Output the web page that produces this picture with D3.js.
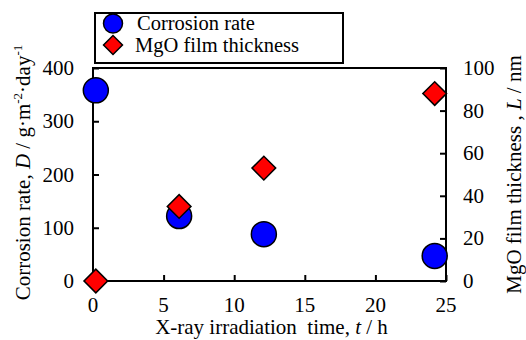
<!DOCTYPE html>
<html>
<head>
<meta charset="utf-8">
<script src="https://cdn.jsdelivr.net/npm/d3@7"></script>
<style>
  body { margin: 0; background: #fff; }
  svg text { font-family: "Liberation Serif", "Times New Roman", serif; fill: #000; }
</style>
</head>
<body>
<svg id="chart"></svg>
<script>
// data
const times = [0.2, 6.1, 12.1, 24.2];
const corrosionRate = [358, 122, 88, 47];
const filmThickness = [0, 35, 53, 88];
const xTicks = [0, 5, 10, 15, 20, 25];
const yLeftTicks = [0, 100, 200, 300, 400];
const yRightTicks = [0, 20, 40, 60, 80, 100];

const width = 526, height = 340;
const margin = { left: 93, right: 80, top: 68, bottom: 59 };
const w = width - margin.left - margin.right;
const h = height - margin.top - margin.bottom;

const svg = d3.select("#chart")
  .attr("width", width)
  .attr("height", height);

const g = svg.append("g")
  .attr("transform", `translate(${margin.left},${margin.top})`);

const x = d3.scaleLinear().domain([0, 25]).range([0, w]);
const yL = d3.scaleLinear().domain([0, 400]).range([h, 0]);
const yR = d3.scaleLinear().domain([0, 100]).range([h, 0]);

// frame
g.append("rect")
  .attr("width", w).attr("height", h)
  .attr("fill", "none").attr("stroke", "#000").attr("stroke-width", 2);

const fs = 21;

// x axis: inward ticks
const xAxis = g.append("g")
  .attr("transform", `translate(0,${h})`)
  .call(d3.axisTop(x).tickValues(xTicks).tickSize(6).tickFormat(""));
xAxis.select(".domain").remove();
xAxis.selectAll("line").attr("stroke-width", 2);
g.selectAll(".xlab").data(xTicks).enter().append("text")
  .attr("x", d => x(d))
  .attr("y", h + 31)
  .attr("text-anchor", "middle")
  .style("font-size", fs + "px")
  .text(d => d);

// left axis
const yLAxis = g.append("g")
  .call(d3.axisRight(yL).tickValues(yLeftTicks).tickSize(6).tickFormat(""));
yLAxis.select(".domain").remove();
yLAxis.selectAll("line").attr("stroke-width", 2);
g.selectAll(".ylab").data(yLeftTicks).enter().append("text")
  .attr("x", -19)
  .attr("y", d => yL(d) + 7)
  .attr("text-anchor", "end")
  .style("font-size", fs + "px")
  .text(d => d);

// right axis
const yRAxis = g.append("g")
  .attr("transform", `translate(${w},0)`)
  .call(d3.axisLeft(yR).tickValues(yRightTicks).tickSize(6).tickFormat(""));
yRAxis.select(".domain").remove();
yRAxis.selectAll("line").attr("stroke-width", 2);
g.selectAll(".yrlab").data(yRightTicks).enter().append("text")
  .attr("x", w + 17)
  .attr("y", d => yR(d) + 7)
  .attr("text-anchor", "start")
  .style("font-size", fs + "px")
  .text(d => d);

// titles
const xt = g.append("text")
  .attr("x", w / 2 + 2)
  .attr("y", h + 53)
  .attr("text-anchor", "middle")
  .style("font-size", fs + "px");
xt.append("tspan").text("X-ray irradiation\u00a0 time, ");
xt.append("tspan").style("font-style", "italic").text("t");
xt.append("tspan").text(" / h");

const ylt = svg.append("text")
  .attr("transform", `translate(30,${margin.top + h / 2 - 2}) rotate(-90)`)
  .attr("text-anchor", "middle")
  .style("font-size", fs + "px");
ylt.append("tspan").text("Corrosion rate, ");
ylt.append("tspan").style("font-style", "italic").text("D");
ylt.append("tspan").text(" / g\u00b7m");
ylt.append("tspan").attr("dy", -8).style("font-size", "13px").text("-2");
ylt.append("tspan").attr("dy", 8).text("\u00b7day");
ylt.append("tspan").attr("dy", -8).style("font-size", "13px").text("-1");

const yrt = svg.append("text")
  .attr("transform", `translate(521,${margin.top + h / 2}) rotate(-90)`)
  .attr("text-anchor", "middle")
  .style("font-size", fs + "px");
yrt.append("tspan").text("MgO film thickness , ");
yrt.append("tspan").style("font-style", "italic").text("L");
yrt.append("tspan").text(" / nm");

// marks
const rate = times.map((t, i) => ({ t, v: corrosionRate[i] }));
const film = times.map((t, i) => ({ t, v: filmThickness[i] }));

g.selectAll(".rate").data(rate).enter().append("circle")
  .attr("cx", d => x(d.t))
  .attr("cy", d => yL(d.v))
  .attr("r", 12.5)
  .attr("fill", "#0000ff")
  .attr("stroke", "#000").attr("stroke-width", 1.5);

g.selectAll(".film").data(film).enter().append("path")
  .attr("transform", d => `translate(${x(d.t)},${yR(d.v)}) rotate(45)`)
  .attr("d", d3.symbol().type(d3.symbolSquare).size(280)())
  .attr("fill", "#ff0000")
  .attr("stroke", "#000").attr("stroke-width", 1.5);

// legend
const lg = svg.append("g").attr("transform", "translate(95,13)");
lg.append("rect")
  .attr("width", 248).attr("height", 50)
  .attr("fill", "#fff").attr("stroke", "#000").attr("stroke-width", 2);
lg.append("circle")
  .attr("cx", 18).attr("cy", 10.5).attr("r", 9.5)
  .attr("fill", "#0000ff").attr("stroke", "#000").attr("stroke-width", 1.5);
lg.append("path")
  .attr("transform", "translate(18,32) rotate(45)")
  .attr("d", d3.symbol().type(d3.symbolSquare).size(180)())
  .attr("fill", "#ff0000").attr("stroke", "#000").attr("stroke-width", 1.5);
lg.append("text").attr("x", 42).attr("y", 16.5)
  .style("font-size", "20.5px").text("Corrosion rate");
lg.append("text").attr("x", 40).attr("y", 39)
  .style("font-size", "20.5px").text("MgO film thickness");
</script>
</body>
</html>
